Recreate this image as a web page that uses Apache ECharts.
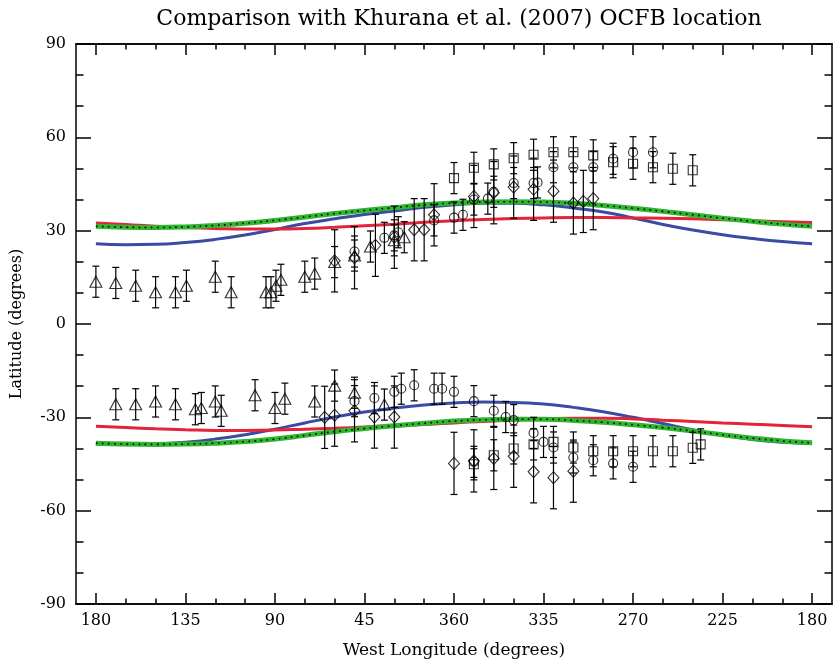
<!DOCTYPE html>
<html>
<head>
<meta charset="utf-8">
<script src="https://cdn.jsdelivr.net/npm/echarts@6/dist/echarts.min.js"></script>
<style>
html, body { margin: 0; padding: 0; background: #fff; }
#chart { width: 835px; height: 667px; }
</style>
</head>
<body>
<div id="chart"></div>
<script>
// x is degrees along the axis, starting at 180 W on the left
const tickPos = [0, 45, 90, 135, 180, 225, 270, 315, 360];
const tickLabels = ['180', '135', '90', '45', '360', '335', '270', '225', '180'];
const minorPos = [15, 30, 60, 75, 105, 120, 150, 165, 195, 210, 240, 255, 285, 300, 330, 345];

const curveX = [0, 15, 30, 45, 60, 75, 90, 105, 120, 135, 150, 165, 180, 195, 210, 225, 240, 255, 270, 285, 300, 315, 330, 345, 360];

const redNorth = [32.5, 32.0, 31.4, 31.0, 30.7, 30.5, 30.5, 30.7, 31.1, 31.6, 32.1, 32.7, 33.2, 33.6, 33.9, 34.1, 34.2, 34.2, 34.1, 34.0, 33.8, 33.5, 33.2, 32.9, 32.6];
const greenNorth = [31.4, 31.1, 31.0, 31.2, 31.7, 32.4, 33.3, 34.4, 35.5, 36.5, 37.4, 38.3, 38.9, 39.2, 39.3, 39.2, 38.8, 38.1, 37.2, 36.2, 35.1, 34.0, 33.0, 32.1, 31.4];
const blueNorth = [25.8, 25.5, 25.6, 26.2, 27.2, 28.6, 30.4, 32.3, 33.8, 35.2, 36.3, 37.5, 38.3, 38.8, 38.8, 38.3, 37.3, 36.0, 34.1, 32.0, 30.2, 28.7, 27.5, 26.5, 25.8];
const redSouth = [-32.9, -33.3, -33.7, -34.0, -34.2, -34.2, -34.1, -33.8, -33.5, -33.1, -32.7, -32.3, -31.8, -31.3, -30.9, -30.5, -30.3, -30.3, -30.5, -30.9, -31.3, -31.8, -32.2, -32.6, -33.0];
const greenSouth = [-38.3, -38.6, -38.7, -38.6, -38.3, -37.8, -37.0, -35.8, -34.6, -33.6, -32.7, -31.9, -31.2, -30.8, -30.6, -30.6, -31.0, -31.6, -32.4, -33.3, -34.4, -35.6, -36.7, -37.6, -38.2];
const blueSouth = [-38.6, -38.8, -38.6, -38.0, -37.0, -35.6, -33.8, -31.8, -29.9, -28.3, -27.0, -26.0, -25.4, -25.1, -25.2, -25.7, -26.8, -28.2, -30.0, -32.0, -34.0, -35.8, -37.1, -38.0, -38.4];

// [x, latitude, error]
const triNorth = [[0, 13.6, 5], [10, 13.2, 5], [20, 12.3, 5], [30, 10.2, 5], [40, 10.2, 5], [45.5, 12.3, 5], [60, 15.2, 5], [68, 10.2, 5], [85.5, 10.2, 5], [88, 10.2, 5], [90.5, 12.3, 5], [93, 14.2, 5], [105, 15.2, 5], [110, 16.2, 5], [120, 19.9, 5], [130, 22.0, 5], [138, 24.9, 5], [150, 26.9, 5], [155, 27.9, 5]];
const circNorth = [[130, 23.3, 5], [145, 27.7, 5], [150, 28.5, 5], [152, 29.5, 5], [170, 33.3, 5], [180, 34.2, 5], [184.5, 35.1, 5], [190, 40.0, 5], [197, 40.3, 5], [200, 42.5, 5], [210, 45.3, 5], [220, 45.3, 5], [222, 45.5, 5], [230, 50.4, 5], [240, 50.4, 5], [250, 50.4, 5], [260, 53.1, 5], [270, 55.2, 5], [280, 55.2, 5]];
const diaNorth = [[120, 20.3, 10], [130, 21.3, 10], [140.5, 25.3, 10], [150, 27.9, 10], [160, 30.3, 10], [165, 30.3, 10], [170, 35.1, 10], [190, 41.0, 10], [200, 42.2, 10], [210, 44.0, 10], [220, 43.3, 10], [230, 42.7, 10], [240, 38.9, 10], [245, 39.4, 10], [250, 40.3, 10]];
const sqNorth = [[180, 46.9, 5], [190, 50.2, 5], [200, 51.3, 5], [210, 53.3, 5], [220, 54.4, 5], [230, 55.2, 5], [240, 55.2, 5], [250, 54.2, 5], [260, 52.0, 5], [270, 51.5, 5], [280, 50.4, 5], [290, 49.9, 5], [300, 49.4, 5]];

const triSouth = [[10, -25.8, 5], [20, -25.8, 5], [30, -24.9, 5], [40, -25.8, 5], [50, -27.4, 5], [53, -27.0, 5], [60, -24.9, 5], [63, -27.9, 5], [80, -22.9, 5], [90, -27.0, 5], [95, -24.0, 5], [110, -24.9, 5], [120, -19.8, 5], [130, -22.1, 5], [145, -25.9, 5]];
const circSouth = [[130, -24.8, 5], [140, -23.8, 5], [150, -21.8, 5], [153.5, -20.8, 5], [160, -19.7, 5], [170, -20.8, 5], [174, -20.8, 5], [180, -21.8, 5], [190, -24.8, 5], [190, -44.3, 5], [200, -27.9, 5], [206, -29.9, 5], [210, -30.9, 5], [220, -35.0, 5], [225, -37.9, 5], [230, -39.7, 5], [240, -42.9, 5], [250, -43.8, 5], [260, -44.8, 5], [270, -45.9, 5]];
const diaSouth = [[115, -30.0, 10], [120, -29.3, 10], [130, -27.9, 10], [140, -29.9, 10], [150, -29.9, 10], [180, -44.8, 10], [190, -44.0, 10], [200, -43.2, 10], [210, -42.5, 10], [220, -47.5, 10], [230, -49.4, 10], [240, -47.3, 10]];
const sqSouth = [[190, -45.1, 5], [200, -42.2, 5], [210, -40.0, 5], [220, -38.7, 5], [230, -37.9, 5], [240, -39.7, 5], [250, -40.9, 5], [260, -40.9, 5], [270, -40.9, 5], [280, -40.9, 5], [290, -40.9, 5], [300, -39.8, 5], [304, -38.7, 5]];

const FONT = 'DejaVu Serif';
const black = { color: '#000', width: 1.5 };

function curve(vals, color, width, extra) {
    return Object.assign({
        type: 'line',
        data: curveX.map((x, i) => [x, vals[i]]),
        showSymbol: false,
        smooth: true,
        silent: true,
        lineStyle: { color: color, width: width }
    }, extra || {});
}

function points(data, symbol, size) {
    return {
        type: 'scatter',
        data: data,
        symbol: symbol,
        symbolSize: size,
        z: 5,
        itemStyle: { color: 'rgba(0,0,0,0)', borderColor: '#000', borderWidth: 1.1 }
    };
}

function renderBar(params, api) {
    const x = api.value(0), y = api.value(1), e = api.value(2);
    const hi = api.coord([x, y + e]);
    const lo = api.coord([x, y - e]);
    const w = 3.5;
    const style = { stroke: '#000', lineWidth: 1.2 };
    return {
        type: 'group',
        children: [
            { type: 'line', shape: { x1: hi[0], y1: hi[1], x2: lo[0], y2: lo[1] }, style: style },
            { type: 'line', shape: { x1: hi[0] - w, y1: hi[1], x2: hi[0] + w, y2: hi[1] }, style: style },
            { type: 'line', shape: { x1: lo[0] - w, y1: lo[1], x2: lo[0] + w, y2: lo[1] }, style: style }
        ]
    };
}

const allPoints = [].concat(triNorth, triSouth, circNorth, circSouth, diaNorth, diaSouth, sqNorth, sqSouth);

function xAxis(position, ticks, len, labels) {
    return {
        type: 'value', min: -10, max: 370, position: position,
        axisLine: { show: true, onZero: false, lineStyle: black },
        axisTick: { show: true, inside: true, length: len, customValues: ticks, lineStyle: black },
        axisLabel: labels ? {
            customValues: ticks,
            formatter: v => tickLabels[tickPos.indexOf(v)],
            fontFamily: FONT, fontSize: 16, color: '#000', margin: 9
        } : { show: false },
        splitLine: { show: false }
    };
}

function yAxis(position, labels) {
    return {
        type: 'value', min: -90, max: 90, interval: 30, position: position,
        axisLine: { show: true, onZero: false, lineStyle: black },
        axisTick: { show: true, inside: true, length: 15, lineStyle: black },
        minorTick: { show: true, splitNumber: 3, length: 7.5, lineStyle: black },
        axisLabel: labels ? { fontFamily: FONT, fontSize: 16, color: '#000', margin: 10 } : { show: false },
        splitLine: { show: false }
    };
}

const xMain = xAxis('bottom', tickPos, 11, true);
xMain.name = 'West Longitude (degrees)';
xMain.nameLocation = 'middle';
xMain.nameGap = 38;
xMain.nameTextStyle = { fontFamily: FONT, fontSize: 17, color: '#000' };

const yMain = yAxis('left', true);
yMain.name = 'Latitude (degrees)';
yMain.nameLocation = 'middle';
yMain.nameGap = 51;
yMain.nameTextStyle = { fontFamily: FONT, fontSize: 16, color: '#000' };

const chart = echarts.init(document.getElementById('chart'));
chart.setOption({
    animation: false,
    backgroundColor: '#fff',
    title: {
        text: 'Comparison with Khurana et al. (2007) OCFB location',
        left: 454, textAlign: 'center', top: 3,
        textStyle: { fontFamily: FONT, fontSize: 22, fontWeight: 'normal', color: '#000' }
    },
    grid: { left: 76, right: 3, top: 44, bottom: 63 },
    xAxis: [
        xMain,
        xAxis('bottom', minorPos, 5.5, false),
        xAxis('top', tickPos, 11, false),
        xAxis('top', minorPos, 5.5, false)
    ],
    yAxis: [yMain, yAxis('right', false)],
    series: [
        curve(blueNorth, '#3b4aa3', 3),
        curve(blueSouth, '#3b4aa3', 3),
        curve(redNorth, '#e3243b', 3),
        curve(redSouth, '#e3243b', 3),
        curve(greenNorth, '#2fb52f', 5),
        curve(greenSouth, '#2fb52f', 5),
        curve(greenNorth, '#000', 1.6, { lineStyle: { color: '#000', width: 1.6, type: [1.6, 4.5] } }),
        curve(greenSouth, '#000', 1.6, { lineStyle: { color: '#000', width: 1.6, type: [1.6, 4.5] } }),
        {
            type: 'custom',
            data: allPoints,
            encode: { x: 0, y: 1 },
            renderItem: renderBar,
            z: 4,
            silent: true
        },
        points(triNorth.concat(triSouth), 'triangle', [12, 11]),
        points(circNorth.concat(circSouth), 'circle', 9),
        points(diaNorth.concat(diaSouth), 'diamond', [11, 12]),
        points(sqNorth.concat(sqSouth), 'rect', 9)
    ]
});
</script>
</body>
</html>
